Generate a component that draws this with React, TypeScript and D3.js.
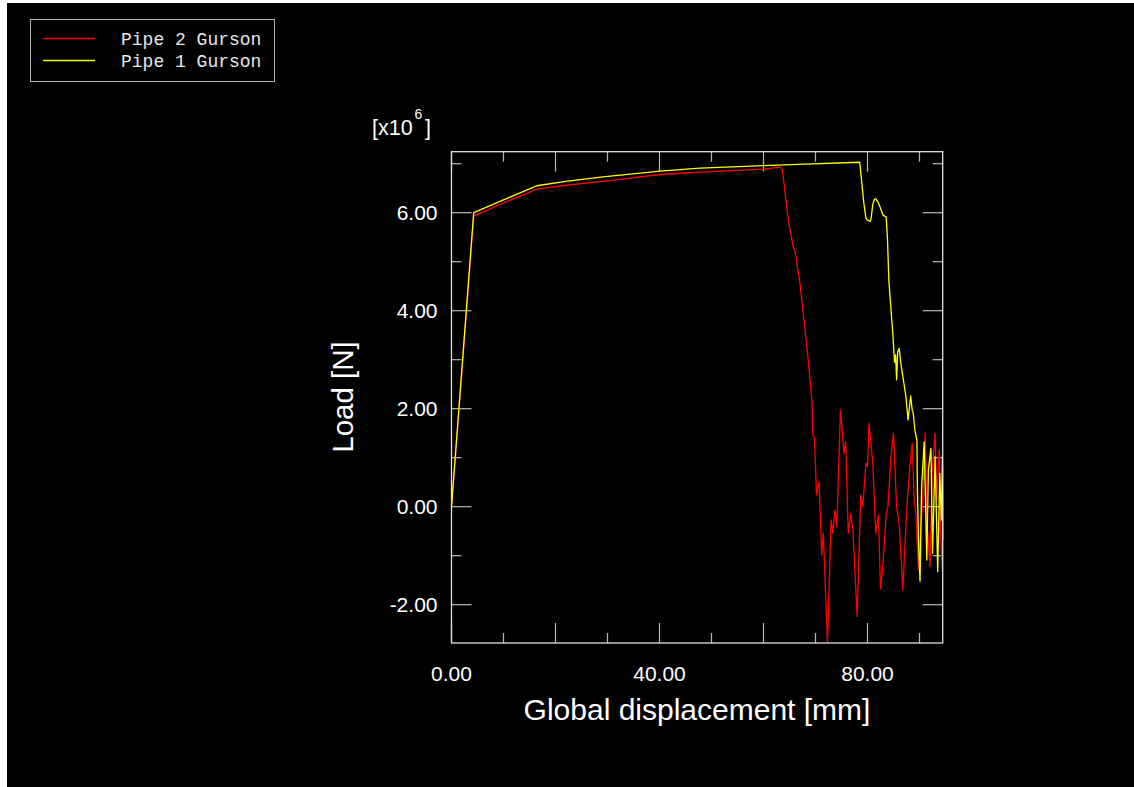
import React from "react";
import * as d3 from "d3";

const seriesNames = ["Pipe 2 Gurson", "Pipe 1 Gurson"];
const seriesColors = ["#ff0000", "#ffff00"];

// Pipe 2 Gurson (red): [displacement mm, load x1e6 N]
const pipe2X = [0, 4.27, 10, 15.1, 16.4, 22, 29.1, 40.1, 47.8, 60.0, 63.2, 63.6, 64.1, 64.6, 65.1, 65.7, 66.1, 67.0, 68.0, 68.6, 69.3, 69.5, 69.8, 70.2, 70.7, 71.2, 71.5, 72.3, 73.0, 73.3, 73.75, 74.1, 74.8, 75.5, 75.8, 76.3, 76.8, 77.2, 78.0, 78.7, 79.1, 79.7, 80.0, 80.3, 81.0, 81.6, 82.1, 82.5, 83.0, 83.6, 83.9, 84.5, 85.0, 85.6, 86.1, 86.8, 87.2, 87.7, 88.2, 88.6, 89.0, 89.3, 89.8, 90.6, 91.1, 91.4, 92.0, 92.5, 93.0, 93.3, 93.8, 94.1, 94.4, 94.46];
const pipe2Y = [0, 5.93, 6.2, 6.42, 6.48, 6.56, 6.64, 6.78, 6.83, 6.89, 6.93, 6.88, 6.46, 5.99, 5.65, 5.31, 5.2, 4.56, 3.61, 2.99, 2.18, 1.43, 1.40, 0.24, 0.51, -0.99, -0.54, -2.76, -0.27, -0.54, -0.07, -0.41, 1.97, 1.09, 1.33, -0.54, -0.14, -0.48, -2.24, 0.24, 0.0, 0.89, 0.82, 1.70, 0.92, -0.54, -0.17, -1.67, -1.16, -0.14, -0.03, 0.99, 1.50, 0.0, -0.37, -1.70, -0.78, 0.20, 0.89, 1.29, 0.07, -0.14, -1.29, 0.14, 1.50, -0.2, -1.22, 0.82, 1.50, 0.14, 1.16, -0.68, -1.29, 0.82];

// Pipe 1 Gurson (yellow)
const pipe1X = [0, 4.27, 10, 15.1, 16.4, 22, 29.1, 40.1, 47.8, 60.0, 68, 78.5, 78.85, 79.3, 79.7, 80.0, 80.5, 80.7, 81.0, 81.3, 81.6, 82.1, 82.5, 83.0, 83.6, 83.85, 84.1, 84.5, 84.9, 85.2, 85.4, 85.6, 85.8, 86.1, 86.4, 86.9, 87.4, 87.8, 88.3, 88.6, 88.8, 89.1, 89.5, 89.6, 89.8, 90.1, 90.4, 90.9, 91.4, 91.7, 92.2, 92.5, 93.0, 93.5, 93.9, 94.2, 94.4, 94.46];
const pipe1Y = [0, 6.0, 6.26, 6.49, 6.55, 6.64, 6.73, 6.85, 6.91, 6.96, 6.99, 7.03, 6.67, 6.19, 5.89, 5.85, 5.82, 5.89, 6.16, 6.27, 6.29, 6.20, 6.09, 5.95, 5.91, 5.44, 4.63, 4.05, 3.48, 2.95, 3.10, 2.59, 3.16, 3.23, 2.93, 2.59, 2.24, 1.77, 2.26, 1.97, 1.91, 1.57, 1.36, 0.34, -0.68, -1.52, 0.40, 1.32, -1.09, 0.75, 1.19, -0.95, 1.02, -1.33, 0.68, -0.27, 1.03, -0.68];

const xTicksMajor = [0, 20, 40, 60, 80];
const xTicksMinor = [10, 30, 50, 70, 90];
const xTickLabels = [0, 40, 80];
const yTicksMajor = [-2, 0, 2, 4, 6];
const yTicksMinor = [-1, 1, 3, 5, 7];
const yTickLabels = [-2, 0, 2, 4, 6];

export default function App() {
  const L = 451.5, R = 942.7, T = 151.7, B = 643;
  const x = d3.scaleLinear().domain([0, 94.46]).range([L, R]);
  const y = d3.scaleLinear().domain([-2.782, 7.245]).range([B, T]);
  const line = d3.line<[number, number]>().x(d => x(d[0])).y(d => y(d[1]));
  const p2 = pipe2X.map((v, i) => [v, pipe2Y[i]] as [number, number]);
  const p1 = pipe1X.map((v, i) => [v, pipe1Y[i]] as [number, number]);
  const tickCol = "#b8b8b8";
  const frameCol = "#e0e0e0";
  const font = "'Liberation Sans', Arial, sans-serif";
  return (
    <svg width={1134} height={787} style={{ position: "absolute", left: 0, top: 0 }}>
      <rect x={0} y={0} width={1134} height={787} fill="#ffffff" />
      <rect x={7} y={3} width={1127} height={784} fill="#000000" />
      {/* legend */}
      <rect x={30.5} y={19.5} width={244} height={62} fill="none" stroke="#b0b0b0" strokeWidth={1} />
      {seriesNames.map((n, i) => (
        <g key={n}>
          <line x1={43} x2={95} y1={38.5 + i * 22} y2={38.5 + i * 22} stroke={seriesColors[i]} strokeWidth={1.3} />
          <text x={121} y={45 + i * 22} fill="#e8e8e8" fontFamily="'Liberation Mono', 'DejaVu Sans Mono', monospace" fontSize={18}>{n}</text>
        </g>
      ))}
      {/* ticks */}
      {yTicksMajor.map(t => (
        <g key={"ym" + t}>
          <line x1={L} x2={L + 20} y1={y(t)} y2={y(t)} stroke={tickCol} strokeWidth={1.2} />
          <line x1={R - 20} x2={R} y1={y(t)} y2={y(t)} stroke={tickCol} strokeWidth={1.2} />
        </g>
      ))}
      {yTicksMinor.map(t => (
        <g key={"yn" + t}>
          <line x1={L} x2={L + 10} y1={y(t)} y2={y(t)} stroke={tickCol} strokeWidth={1.2} />
          <line x1={R - 10} x2={R} y1={y(t)} y2={y(t)} stroke={tickCol} strokeWidth={1.2} />
        </g>
      ))}
      {xTicksMajor.map(t => (
        <g key={"xm" + t}>
          <line x1={x(t)} x2={x(t)} y1={B} y2={B - 20} stroke={tickCol} strokeWidth={1.2} />
          <line x1={x(t)} x2={x(t)} y1={T} y2={T + 20} stroke={tickCol} strokeWidth={1.2} />
        </g>
      ))}
      {xTicksMinor.map(t => (
        <g key={"xn" + t}>
          <line x1={x(t)} x2={x(t)} y1={B} y2={B - 10} stroke={tickCol} strokeWidth={1.2} />
          <line x1={x(t)} x2={x(t)} y1={T} y2={T + 10} stroke={tickCol} strokeWidth={1.2} />
        </g>
      ))}
      {/* data */}
      <path d={line(p2) || ""} fill="none" stroke={seriesColors[0]} strokeWidth={1.3} strokeLinejoin="round" />
      <path d={line(p1) || ""} fill="none" stroke={seriesColors[1]} strokeWidth={1.3} strokeLinejoin="round" />
      {/* frame */}
      <rect x={L} y={T} width={R - L} height={B - T} fill="none" stroke={frameCol} strokeWidth={1.3} />
      {/* tick labels */}
      {xTickLabels.map(t => (
        <text key={"xl" + t} x={x(t)} y={681} textAnchor="middle" fill="#ffffff" fontFamily={font} fontSize={21}>{t.toFixed(2)}</text>
      ))}
      {yTickLabels.map(t => (
        <text key={"yl" + t} x={437.5} y={y(t) + 7.5} textAnchor="end" fill="#ffffff" fontFamily={font} fontSize={21}>{t.toFixed(2)}</text>
      ))}
      {/* axis titles */}
      <text x={697} y={720} textAnchor="middle" fill="#ffffff" fontFamily={font} fontSize={30}>Global displacement [mm]</text>
      <text transform="translate(353,397) rotate(-90)" textAnchor="middle" fill="#ffffff" fontFamily={font} fontSize={29.5}>Load [N]</text>
      <text x={372} y={134.5} fill="#ffffff" fontFamily={font} fontSize={21.5}>[x10</text>
      <text x={414.5} y={119} fill="#ffffff" fontFamily={font} fontSize={14}>6</text>
      <text x={425} y={134.5} fill="#ffffff" fontFamily={font} fontSize={21.5}>]</text>
    </svg>
  );
}
